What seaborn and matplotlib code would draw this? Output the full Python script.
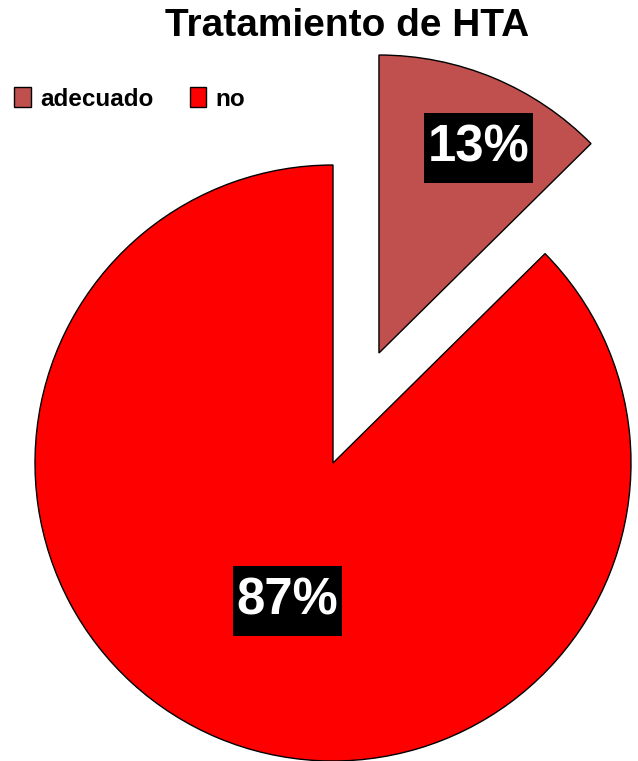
import matplotlib
matplotlib.use("Agg")
import matplotlib.pyplot as plt
import seaborn as sns
import numpy as np

categories = ["adecuado", "no"]
values = [12.6, 87.4]
colors = ["#C0504D", "#FF0000"]
explode = [0.4, 0.0]
title = "Tratamiento de HTA"

sns.set_theme(style="white")
plt.rcParams["font.family"] = ["Liberation Sans", "DejaVu Sans"]
plt.rcParams["text.color"] = "black"

W, H = 638, 761
fig = plt.figure(figsize=(W / 100, H / 100), dpi=100)
ax = fig.add_axes([0, 0, 1, 1])

wedges, texts, autotexts = ax.pie(
    values, colors=colors, explode=explode, startangle=90, counterclock=False,
    autopct="%.0f%%", pctdistance=0.6,
    wedgeprops=dict(edgecolor="black", linewidth=1.0),
    textprops=dict(color="white", fontsize=36.5, fontweight="bold"),
)

# label placement: fraction along wedge angle, distance in radius units
label_frac = [0.43, 0.514]
label_dist = [0.765, 0.488]
for w, t, f, d in zip(wedges, autotexts, label_frac, label_dist):
    cx, cy = w.center
    ang = np.deg2rad(w.theta1 + f * (w.theta2 - w.theta1))
    t.set_position((cx + d * w.r * np.cos(ang), cy + d * w.r * np.sin(ang)))
    t.set_bbox(dict(facecolor="black", edgecolor="none",
                    boxstyle="square,pad=0.07", mutation_aspect=3.0))
    t.set_ha("center")
    t.set_va("center")

R = 298.0
cxp, cyp = 333.0, 463.0
ax.set_xlim(-cxp / R, (W - cxp) / R)
ax.set_ylim(-(H - cyp) / R, cyp / R)
ax.set_aspect("auto")
ax.axis("off")

fig.text(347 / W, 1 - 26 / H, title, ha="center", va="center",
         fontsize=28, fontweight="bold", color="black")

leg = fig.legend(wedges, categories, loc="center left",
                 bbox_to_anchor=(14 / W, 1 - 99 / H), ncol=2, frameon=False,
                 prop=dict(size=17.5, weight="bold"),
                 handlelength=0.68, handleheight=0.85, handletextpad=0.38,
                 columnspacing=1.5, borderaxespad=0, borderpad=0)
for txt in leg.get_texts():
    txt.set_color("black")

fig.savefig("out.png", dpi=100)
